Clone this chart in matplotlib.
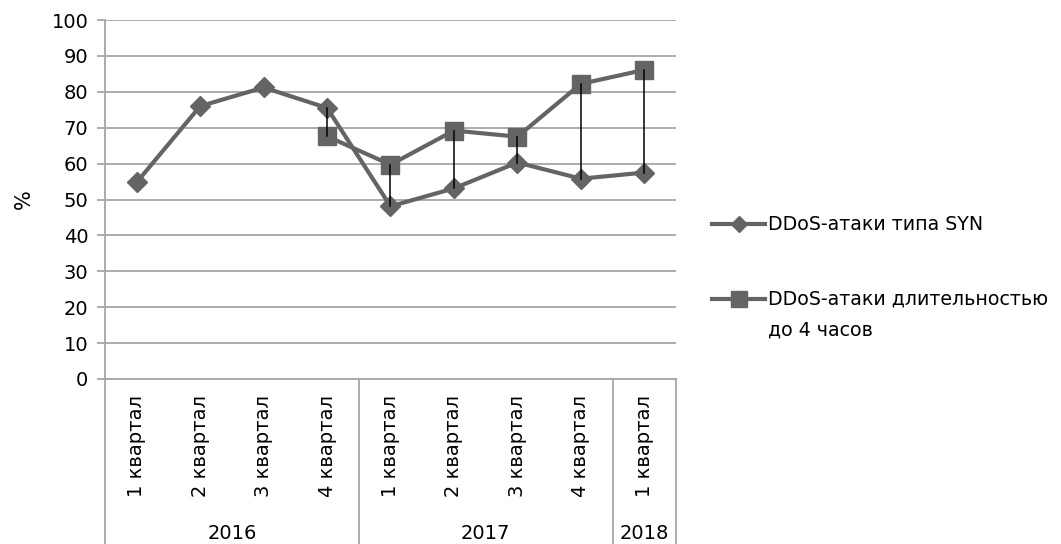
import numpy as np
import matplotlib
matplotlib.use("Agg")
import matplotlib.pyplot as plt
from matplotlib.lines import Line2D

plt.rcParams['font.family'] = ['DejaVu Sans']

# data
quarters = ['1 квартал', '2 квартал', '3 квартал', '4 квартал',
            '1 квартал', '2 квартал', '3 квартал', '4 квартал',
            '1 квартал']
years = ['2016', '2017', '2018']
year_counts = [4, 4, 1]
syn = [54.8, 76.0, 81.2, 75.5, 48.1, 53.1, 60.3, 55.8, 57.5]
dur = [np.nan, np.nan, np.nan, 67.6, 59.7, 69.2, 67.5, 82.2, 86.1]
syn_label = 'DDoS-атаки типа SYN'
dur_label = ['DDoS-атаки длительностью', 'до 4 часов']

line_col = '#646464'
grid_col = '#a6a6a6'
fs = 14

fig = plt.figure(figsize=(10.61, 5.44), dpi=100)
W, H = 1061, 544
ax = fig.add_axes([105 / W, 165 / H, 571 / W, 359 / H])

x = np.arange(len(quarters))
ax.set_xlim(-0.5, len(quarters) - 0.5)
ax.set_ylim(0, 100)
ax.set_yticks(np.arange(0, 101, 10))
ax.yaxis.grid(True, color=grid_col, linewidth=1.3)
ax.set_axisbelow(True)
ax.tick_params(axis='y', length=6, color=grid_col, width=1.3, labelsize=fs, pad=6)
ax.tick_params(axis='x', length=0, labelbottom=False)
for side in ['top', 'right']:
    ax.spines[side].set_visible(False)
for side in ['left', 'bottom']:
    ax.spines[side].set_color(grid_col)
    ax.spines[side].set_linewidth(1.3)
ax.set_ylabel('%', fontsize=fs + 1, labelpad=13)

# lines
ax.plot(x, syn, color=line_col, linewidth=3, marker='D', markersize=10.5,
        zorder=3)
ax.plot(x, dur, color=line_col, linewidth=3, marker='s', markersize=13.5,
        zorder=3)

# high-low lines
for xi, a, b in zip(x, syn, dur):
    if not np.isnan(b):
        ax.plot([xi, xi], [min(a, b), max(a, b)], color='black',
                linewidth=1.1, zorder=4)

# category axis: quarter labels, year labels and group boxes
trans = ax.get_xaxis_transform()
for xi, q in zip(x, quarters):
    ax.text(xi, -0.045, q, rotation=90, ha='center', va='top', fontsize=fs,
            transform=trans)

bottom = -0.47
start = 0
bounds = [-0.5]
for yr, n in zip(years, year_counts):
    ax.text(start + (n - 1) / 2, -0.43, yr, ha='center', va='center',
            fontsize=fs, transform=trans)
    start += n
    bounds.append(start - 0.5)
for b in bounds:
    ax.plot([b, b], [0, bottom], color=grid_col, linewidth=1.3,
            transform=trans, clip_on=False)

# legend, drawn by hand so the handle sits on the first text line
def legend_entry(ypix, marker, msize, lines):
    yf = 1 - ypix / H
    fig.add_artist(Line2D([712 / W, 765 / W], [yf, yf], color=line_col,
                          linewidth=3, transform=fig.transFigure))
    fig.add_artist(Line2D([738.5 / W], [yf], color=line_col, marker=marker,
                          markersize=msize, linestyle='None',
                          transform=fig.transFigure))
    for i, t in enumerate(lines):
        fig.text(768 / W, 1 - (ypix + i * 31) / H, t, fontsize=13.7,
                 ha='left', va='center')

legend_entry(224, 'D', 8, [syn_label])
legend_entry(299, 's', 11, dur_label)

fig.savefig('out.png', dpi=100)
